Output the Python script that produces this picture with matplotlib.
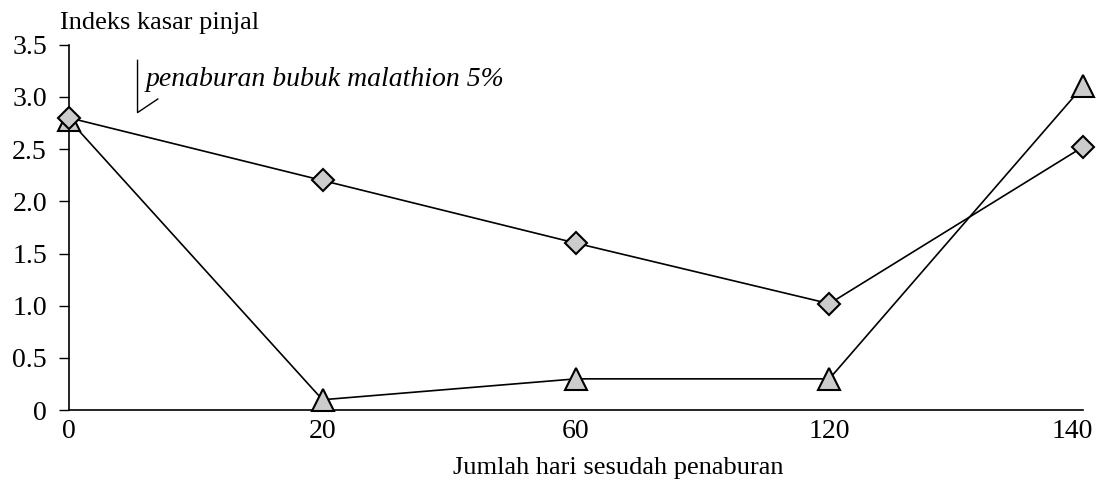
import numpy as np
import matplotlib.pyplot as plt
from matplotlib.transforms import ScaledTranslation

plt.rcParams['font.family'] = 'Liberation Serif'

# Data
hari = ['0', '20', '60', '120', '140']
seri_belah_ketupat = [2.8, 2.2, 1.6, 1.02, 2.52]
seri_segitiga = [2.78, 0.1, 0.3, 0.3, 3.1]

x = np.arange(len(hari))

fig = plt.figure(figsize=(10.97, 4.86), dpi=100)
ax = fig.add_axes([0.063, 0.156, 0.924, 0.752])

ax.plot(x, seri_segitiga, color='black', lw=1.2, marker='^', markersize=16,
        markerfacecolor='#cccccc', markeredgecolor='black', markeredgewidth=1.5,
        clip_on=False, zorder=3)
ax.plot(x, seri_belah_ketupat, color='black', lw=1.2, marker='D', markersize=11,
        markerfacecolor='#cccccc', markeredgecolor='black', markeredgewidth=1.5,
        clip_on=False, zorder=4)

ax.set_xlim(0, 4)
ax.set_ylim(0, 3.5)
ax.set_xticks(x)
ax.set_xticklabels(hari)
ax.set_yticks([0, 0.5, 1.0, 1.5, 2.0, 2.5, 3.0, 3.5])
ax.set_yticklabels(['0', '0.5', '1.0', '1.5', '2.0', '2.5', '3.0', '3.5'])
ax.tick_params(axis='y', direction='out', length=7, width=1, labelsize=20, pad=9)
ax.tick_params(axis='x', length=0, labelsize=20, pad=6)

# label 140 digeser sedikit ke kiri supaya tidak terpotong
lbl = ax.get_xticklabels()[-1]
lbl.set_transform(lbl.get_transform() + ScaledTranslation(-0.1, 0, fig.dpi_scale_trans))

ax.spines['top'].set_visible(False)
ax.spines['right'].set_visible(False)
ax.spines['left'].set_linewidth(1.2)
ax.spines['bottom'].set_linewidth(1.2)

# penanda penaburan
ax.plot([0.27, 0.27, 0.35], [3.35, 2.85, 2.98], color='black', lw=1, clip_on=False)
ax.text(0.30, 3.17, 'penaburan bubuk malathion 5%', fontsize=20, style='italic',
        va='center', ha='left')

fig.text(0.055, 0.952, 'Indeks kasar pinjal', fontsize=19, ha='left', va='center')
fig.text(0.564, 0.037, 'Jumlah hari sesudah penaburan', fontsize=19, ha='center', va='center')

plt.savefig('out.png', dpi=100)
